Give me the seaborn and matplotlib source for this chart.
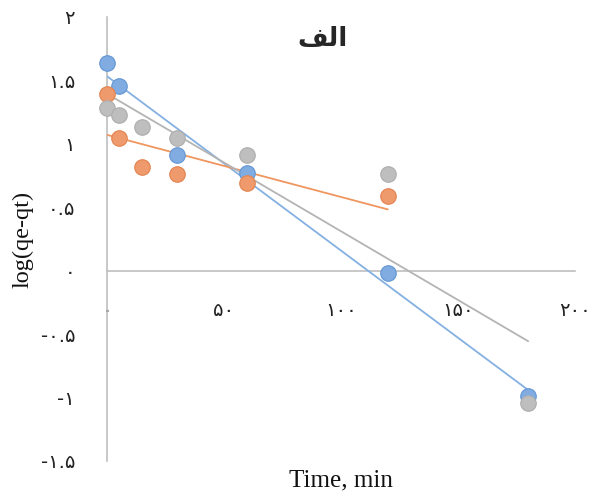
import seaborn as sns
import matplotlib.pyplot as plt
import pandas as pd

# time (min)
time_blue = [0, 5, 30, 60, 120, 180]
time_orange = [0, 5, 15, 30, 60, 120]
time_gray = [0, 5, 15, 30, 60, 120, 180]

# log(qe-qt) values
log_blue = [1.64, 1.46, 0.91, 0.77, -0.02, -0.99]
log_orange = [1.39, 1.05, 0.82, 0.76, 0.69, 0.59]
log_gray = [1.28, 1.23, 1.13, 1.05, 0.91, 0.76, -1.04]

x_ticks = [0, 50, 100, 150, 200]
x_tick_labels = ["۰", "۵۰", "۱۰۰", "۱۵۰", "۲۰۰"]
y_ticks = [-1.5, -1, -0.5, 0, 0.5, 1, 1.5, 2]
y_tick_labels = ["-۱.۵", "-۱", "-۰.۵", "۰", "۰.۵", "۱", "۱.۵", "۲"]

title = "\uFED2\uFEDF\uFE8D"  # "الف" in presentation forms, visual order

sns.set_style("white")
plt.rcParams["font.family"] = ["DejaVu Sans"]

fig = plt.figure(figsize=(5.94, 4.93), dpi=100)
ax = fig.add_axes([107 / 594, 1 - 461 / 493, 468 / 594, 444 / 493])

series = [
    (time_blue, log_blue, "#80ACE2", "#6396D3", "#84B0E2"),
    (time_orange, log_orange, "#EF9A6C", "#E3834F", "#F0965F"),
    (time_gray, log_gray, "#BEBEBE", "#ADADAD", "#B4B4B4"),
]
for xs, ys, fill, edge, line in series:
    df = pd.DataFrame({"t": xs, "v": ys})
    sns.regplot(data=df, x="t", y="v", ax=ax, ci=None, truncate=True,
                scatter_kws={"s": 125, "color": fill, "edgecolors": edge,
                             "linewidths": 0.8, "alpha": 1, "zorder": 3,
                             "clip_on": False},
                line_kws={"color": line, "lw": 1.3, "zorder": 2})

ax.set_xlim(0, 200)
ax.set_ylim(-1.5, 2)
for side in ["top", "right"]:
    ax.spines[side].set_visible(False)
ax.spines["bottom"].set_position(("data", 0))
for side in ["left", "bottom"]:
    ax.spines[side].set_color("#BFBFBF")
    ax.spines[side].set_linewidth(1.2)
    ax.spines[side].set_zorder(1)

ax.set_xticks(x_ticks)
ax.set_xticklabels(x_tick_labels)
ax.set_yticks(y_ticks)
ax.set_yticklabels(y_tick_labels)
ax.tick_params(axis="x", length=0, pad=22, labelsize=14, colors="#222222")
ax.tick_params(axis="y", length=0, pad=23, labelsize=14, colors="#222222")

ax.set_xlabel("Time, min", family="Liberation Serif", fontsize=18, color="#111111")
ax.set_ylabel("log(qe-qt)", family="Liberation Serif", fontsize=17.5, color="#111111")
ax.xaxis.set_label_coords(0.5, -0.02)
ax.yaxis.set_label_coords(-0.157, 0.498)

ax.text(0.46, 0.95, title, transform=ax.transAxes, ha="center", va="center",
        fontsize=19, fontweight="bold", family="DejaVu Sans")

fig.savefig("out.png", dpi=100)
